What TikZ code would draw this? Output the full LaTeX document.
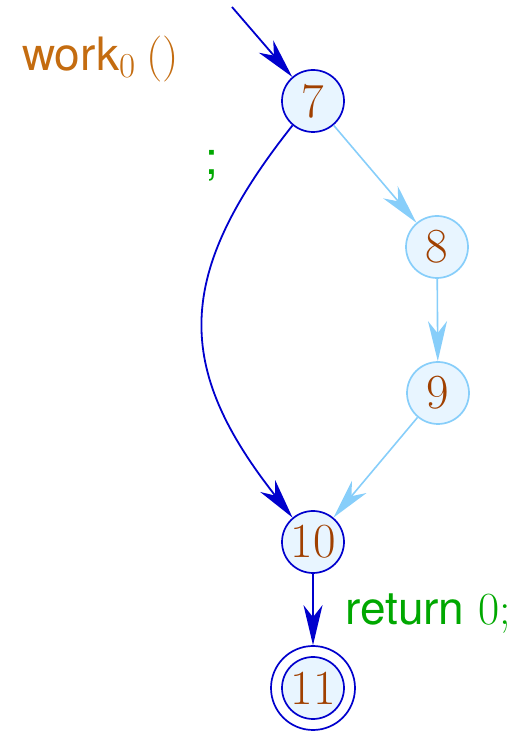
\documentclass[tikz,border=0pt]{standalone}
\usepackage{fontspec}
\newfontfamily\hv{TeX Gyre Heros}
\usetikzlibrary{arrows.meta}
\definecolor{edgeblue}{RGB}{0,0,205}
\definecolor{paleblue}{RGB}{135,206,250}
\definecolor{nodefill}{RGB}{232,245,255}
\definecolor{numbrown}{RGB}{160,64,0}
\definecolor{fnorange}{RGB}{196,108,16}
\definecolor{codegreen}{RGB}{0,168,0}
\tikzset{
  tip/.style={-{Stealth[length=40pt,width=19pt,inset=12pt]}},
  statenode/.style={circle, draw=edgeblue, line width=1.7pt, fill=nodefill,
    minimum size=62pt, inner sep=0pt, text=numbrown,
    font=\fontsize{49}{50}\selectfont},
  palenode/.style={statenode, draw=paleblue},
  active/.style={tip, draw=edgeblue, line width=1.8pt},
  inactive/.style={tip, draw=paleblue, line width=1.6pt},
  lbl/.style={inner sep=0pt, font=\fontsize{46}{47}\selectfont}
}
\newcommand{\subzero}{\raisebox{-7pt}{\fontsize{35}{35}\selectfont 0}}
\begin{document}
\begin{tikzpicture}[x=1pt,y=1pt]
  \useasboundingbox (0,0) rectangle (520,731);

  % states
  \node[statenode] (n7)  at (313,630) {7};
  \node[palenode]  (n8)  at (437,484) {8};
  \node[palenode]  (n9)  at (438,338) {9};
  \node[statenode] (n10) at (313,189) {10};
  \node[circle, draw=edgeblue, line width=1.7pt, minimum size=84pt,
        inner sep=0pt] (n11) at (313,43) {};
  \node[statenode] (n11in) at (n11.center) {11};

  % entry
  \coordinate (entry) at (232,724);
  \draw[active] (entry) -- (n7);

  % labels
  \node[lbl, text=fnorange, anchor=base west] (fname) at (22,660)
    {{\hv work}\subzero\hspace{11pt}()};
  \node[lbl, text=codegreen, anchor=base] (semi) at (212,556) {\hv ;};
  \node[lbl, text=codegreen, anchor=base west] (ret) at (345,106)
    {{\hv return} 0;};

  % edges
  \draw[inactive] (n7) -- (n8);
  \draw[inactive] (n8) -- (n9);
  \draw[inactive] (n9) -- (n10);
  \draw[active] (n7.230) .. controls (174,456) and (174,364) .. (n10.130);
  \draw[active] (n10) -- (n11);
\end{tikzpicture}
\end{document}
